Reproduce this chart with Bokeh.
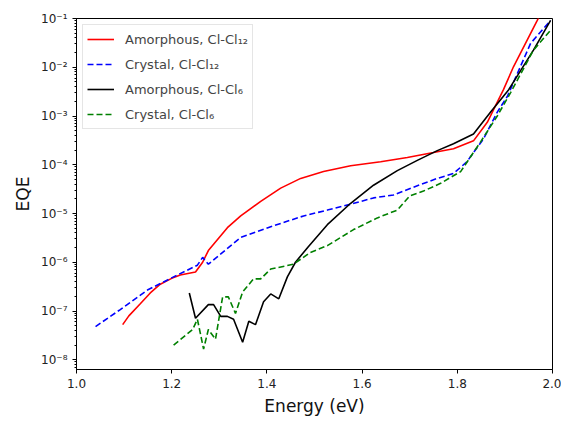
from bokeh.plotting import figure
from bokeh.models import FixedTicker, LogTicker, CustomJSTickFormatter, NumeralTickFormatter, Legend, LegendItem, Range1d
from bokeh.embed import file_html
from bokeh.resources import INLINE

# Amorphous, Cl-Cl12 (log10 EQE)
am12_x = [1.097, 1.11, 1.134, 1.155, 1.176, 1.20, 1.218, 1.25, 1.265, 1.277, 1.317, 1.345, 1.387, 1.429, 1.471, 1.519, 1.576, 1.639, 1.695, 1.75, 1.792, 1.834, 1.863, 1.897, 1.918, 1.968, 1.99]
am12_y = [-7.28, -7.10, -6.85, -6.63, -6.45, -6.33, -6.26, -6.20, -6.00, -5.76, -5.29, -5.05, -4.75, -4.48, -4.28, -4.14, -4.02, -3.94, -3.85, -3.75, -3.67, -3.51, -3.13, -2.46, -1.99, -1.04, -0.6]

# Crystal, Cl-Cl12
cr12_x = [1.04, 1.092, 1.149, 1.204, 1.254, 1.265, 1.277, 1.319, 1.345, 1.408, 1.477, 1.527, 1.576, 1.624, 1.666, 1.708, 1.758, 1.792, 1.82, 1.855, 1.884, 1.905, 1.954, 1.996]
cr12_y = [-7.32, -6.97, -6.57, -6.30, -6.06, -5.90, -6.04, -5.70, -5.49, -5.27, -5.05, -4.93, -4.81, -4.68, -4.62, -4.46, -4.28, -4.18, -3.94, -3.47, -2.92, -2.60, -1.51, -1.04]

# Amorphous, Cl-Cl6
am6_x = [1.237, 1.25, 1.277, 1.288, 1.303, 1.317, 1.33, 1.349, 1.362, 1.376, 1.393, 1.408, 1.425, 1.443, 1.46, 1.487, 1.527, 1.576, 1.624, 1.674, 1.716, 1.758, 1.792, 1.834, 1.87, 1.908, 1.96, 1.996]
am6_y = [-6.63, -7.15, -6.87, -6.87, -7.11, -7.11, -7.17, -7.64, -7.21, -7.28, -6.81, -6.65, -6.75, -6.30, -6.00, -5.68, -5.23, -4.79, -4.42, -4.12, -3.91, -3.71, -3.57, -3.37, -2.92, -2.46, -1.65, -1.04]

# Crystal, Cl-Cl6
cr6_x = [1.204, 1.244, 1.254, 1.267, 1.277, 1.292, 1.307, 1.319, 1.334, 1.349, 1.372, 1.387, 1.408, 1.456, 1.491, 1.527, 1.582, 1.632, 1.674, 1.70, 1.729, 1.765, 1.807, 1.849, 1.884, 1.912, 1.96, 1.996]
cr6_y = [-7.70, -7.38, -7.17, -7.78, -7.38, -7.58, -6.71, -6.71, -7.05, -6.61, -6.34, -6.34, -6.14, -6.04, -5.80, -5.66, -5.33, -5.09, -4.93, -4.64, -4.54, -4.38, -4.14, -3.53, -3.00, -2.52, -1.65, -1.24]

x_ticks = [1.0, 1.2, 1.4, 1.6, 1.8, 2.0]

def lin(v):
    return [10 ** a for a in v]

FONT = "DejaVu Sans"
p = figure(width=561, height=418, y_axis_type="log", output_backend="svg", toolbar_location=None,
           x_range=Range1d(1.0, 2.0), y_range=Range1d(10 ** -8.2, 0.1),
           min_border_left=76, min_border_top=18, min_border_right=9, min_border_bottom=44)
p.xgrid.visible = False
p.ygrid.visible = False
p.outline_line_color = "black"
p.outline_line_alpha = 1.0
p.background_fill_color = "white"

r1 = p.line(am12_x, lin(am12_y), line_color="red", line_width=1.6)
r2 = p.line(cr12_x, lin(cr12_y), line_color="blue", line_width=1.6, line_dash="6 3")
r3 = p.line(am6_x, lin(am6_y), line_color="black", line_width=1.6)
r4 = p.line(cr6_x, lin(cr6_y), line_color="green", line_width=1.6, line_dash="6 3")

legend = Legend(items=[
    LegendItem(label="Amorphous, Cl-Cl\u2081\u2082", renderers=[r1]),
    LegendItem(label="Crystal, Cl-Cl\u2081\u2082", renderers=[r2]),
    LegendItem(label="Amorphous, Cl-Cl\u2086", renderers=[r3]),
    LegendItem(label="Crystal, Cl-Cl\u2086", renderers=[r4]),
], location="top_left")
legend.label_text_font = FONT
legend.label_text_font_size = "13px"
legend.border_line_color = "#cccccc"
legend.border_line_width = 1
legend.margin = 6
legend.padding = 4
legend.spacing = 5
legend.glyph_width = 27
legend.label_standoff = 11
legend.label_height = 20
legend.glyph_height = 20
p.add_layout(legend)

p.xaxis.ticker = FixedTicker(ticks=x_ticks, minor_ticks=[])
p.xaxis.formatter = NumeralTickFormatter(format="0.0")
p.yaxis.ticker = LogTicker(num_minor_ticks=10)
p.yaxis.formatter = CustomJSTickFormatter(code="""
const sup = {'-':'\u207b','0':'\u2070','1':'\u00b9','2':'\u00b2','3':'\u00b3','4':'\u2074','5':'\u2075','6':'\u2076','7':'\u2077','8':'\u2078','9':'\u2079'};
const e = Math.round(Math.log10(tick));
return '10' + String(e).split('').map(c => sup[c]).join('');
""")

for ax in (p.xaxis[0], p.yaxis[0]):
    ax.axis_line_color = "black"
    ax.major_tick_line_color = "black"
    ax.minor_tick_line_color = "black"
    ax.major_tick_out = 4
    ax.major_tick_in = 0
    ax.minor_tick_out = 2
    ax.minor_tick_in = 0
    ax.major_label_text_font = FONT
    ax.major_label_text_font_size = "12px"
    ax.major_label_text_color = "#222222"
    ax.axis_label_text_font = FONT
    ax.axis_label_text_font_size = "17px"
    ax.axis_label_text_font_style = "normal"
    ax.axis_label_text_color = "#111111"

p.xaxis.axis_label = "Energy (eV)"
p.yaxis.axis_label = "EQE"

open("out.html", "w").write(file_html(p, INLINE))
